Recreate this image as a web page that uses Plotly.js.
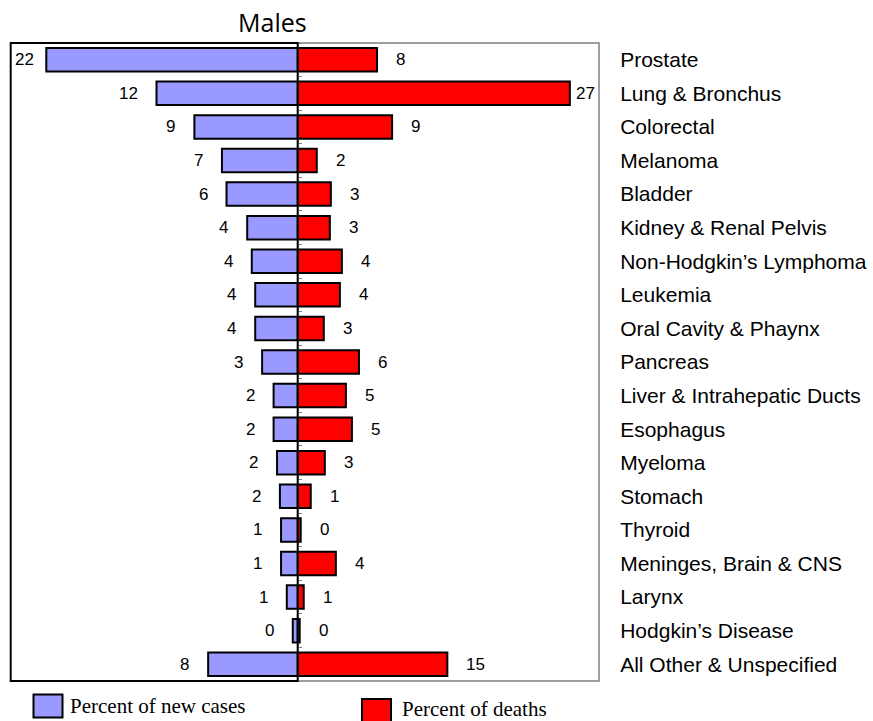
<!DOCTYPE html>
<html><head><meta charset="utf-8">
<script src="https://cdn.plot.ly/plotly-3.0.1.min.js"></script>
<style>html,body{margin:0;padding:0;background:#fff}#chart{width:873px;height:721px}</style>
</head><body><div id="chart"></div>
<script>
const categories = ["Prostate","Lung & Bronchus","Colorectal","Melanoma","Bladder","Kidney & Renal Pelvis","Non-Hodgkin\u2019s Lymphoma","Leukemia","Oral Cavity & Phaynx","Pancreas","Liver & Intrahepatic Ducts","Esophagus","Myeloma","Stomach","Thyroid","Meninges, Brain & CNS","Larynx","Hodgkin\u2019s Disease","All Other & Unspecified"];
const newCases = [21.9,12.3,9.0,6.6,6.2,4.4,4.0,3.7,3.7,3.1,2.1,2.1,1.8,1.55,1.45,1.45,0.95,0.43,7.8];
const deaths = [7.9,27.1,9.4,1.9,3.3,3.2,4.4,4.2,2.6,6.1,4.8,5.4,2.7,1.3,0.3,3.8,0.6,0.2,14.9];
const newCaseLabels = ["22","12","9","7","6","4","4","4","4","3","2","2","2","2","1","1","1","0","8"];
const deathLabels = ["8","27","9","2","3","3","4","4","3","6","5","5","3","1","0","4","1","0","15"];
const seriesNames = ["Percent of new cases","Percent of deaths"];
const titleText = "Males";

const W = 873, H = 721;
const leftRange = 25, rightRange = 30;
const xL0 = 10.7, xMid = 297.7, xR1 = 599, yTop = 43, yBot = 681;
const px = v => v / W, py = v => 1 - v / H;
const blue = "#9999ff", red = "#ff0000";
const sans = "Liberation Sans, Arial, sans-serif";
const serif = "Liberation Serif, Times New Roman, serif";

const traces = [
  {type:"bar", orientation:"h", x:newCases, y:categories, xaxis:"x", yaxis:"y",
   marker:{color:blue, line:{color:"#000", width:2}}, hoverinfo:"skip", showlegend:false, name:seriesNames[0]},
  {type:"bar", orientation:"h", x:deaths, y:categories, xaxis:"x2", yaxis:"y2",
   marker:{color:red, line:{color:"#000", width:2}}, hoverinfo:"skip", showlegend:false, name:seriesNames[1]}
];

const pxL = (xMid - xL0) / leftRange, pxR = (xR1 - xMid) / rightRange;
const digitW = 0.556 * 17;
const annotations = [];
categories.forEach((c, i) => {
  const twL = newCaseLabels[i].length * digitW;
  const shL = Math.min(17, (leftRange - newCases[i]) * pxL - twL - 6);
  annotations.push({x:newCases[i], y:c, xref:"x", yref:"y", text:newCaseLabels[i], showarrow:false,
    xanchor:"right", yanchor:"middle", xshift:-shL, font:{family:sans, size:17, color:"#000"}});
  const twR = deathLabels[i].length * digitW;
  const shR = Math.min(17, (rightRange - deaths[i]) * pxR - twR - 6);
  annotations.push({x:deaths[i], y:c, xref:"x2", yref:"y2", text:deathLabels[i], showarrow:false,
    xanchor:"left", yanchor:"middle", xshift:shR, font:{family:sans, size:17, color:"#000"}});
});
annotations.push({x:px(272), y:py(22), xref:"paper", yref:"paper", text:titleText, showarrow:false,
  xanchor:"center", yanchor:"middle", font:{family:"Open Sans, sans-serif", size:25, color:"#000"}});
annotations.push({x:px(68), y:py(706), xref:"paper", yref:"paper", text:seriesNames[0], showarrow:false,
  xanchor:"left", yanchor:"middle", font:{family:serif, size:21, color:"#000"}});
annotations.push({x:px(400), y:py(709), xref:"paper", yref:"paper", text:seriesNames[1], showarrow:false,
  xanchor:"left", yanchor:"middle", font:{family:serif, size:21, color:"#000"}});

const shapes = [
  {type:"rect", xref:"x2 domain", yref:"y2 domain", x0:0, x1:1, y0:0, y1:1, line:{color:"#808080", width:1.5}, layer:"above"},
  {type:"rect", xref:"x domain", yref:"y domain", x0:0, x1:1, y0:0, y1:1, line:{color:"#000", width:2}, layer:"above"},
  {type:"rect", xref:"paper", yref:"paper", x0:px(33.5), x1:px(62.5), y0:py(694.5), y1:py(717.5), fillcolor:blue, line:{color:"#000", width:2}},
  {type:"rect", xref:"paper", yref:"paper", x0:px(362), x1:px(391), y0:py(699), y1:py(722), fillcolor:red, line:{color:"#000", width:2}}
];

const yDom = [py(yBot), py(yTop)];
const layout = {
  width:W, height:H, margin:{l:0, r:0, t:0, b:0}, paper_bgcolor:"#fff", plot_bgcolor:"#fff",
  bargap:0.3, showlegend:false,
  xaxis:{domain:[px(xL0), px(xMid)], range:[leftRange, 0], visible:false, anchor:"y"},
  yaxis:{domain:yDom, type:"category", categoryorder:"array", categoryarray:categories, autorange:"reversed",
    anchor:"x", side:"right", showticklabels:false, ticks:"outside", tickson:"boundaries", ticklen:3,
    tickcolor:"#808080", tickwidth:1, showgrid:false, zeroline:false, showline:false},
  xaxis2:{domain:[px(xMid), px(xR1)], range:[0, rightRange], visible:false, anchor:"y2"},
  yaxis2:{domain:yDom, type:"category", categoryorder:"array", categoryarray:categories, autorange:"reversed",
    anchor:"x2", side:"right", showticklabels:true, ticks:"outside", ticklen:16, tickcolor:"rgba(0,0,0,0)",
    showgrid:false, zeroline:false, showline:false, automargin:false,
    tickfont:{family:sans, size:21, color:"#000"}},
  annotations:annotations, shapes:shapes
};
Plotly.newPlot("chart", traces, layout, {displayModeBar:false, staticPlot:true});
</script>
</body></html>
